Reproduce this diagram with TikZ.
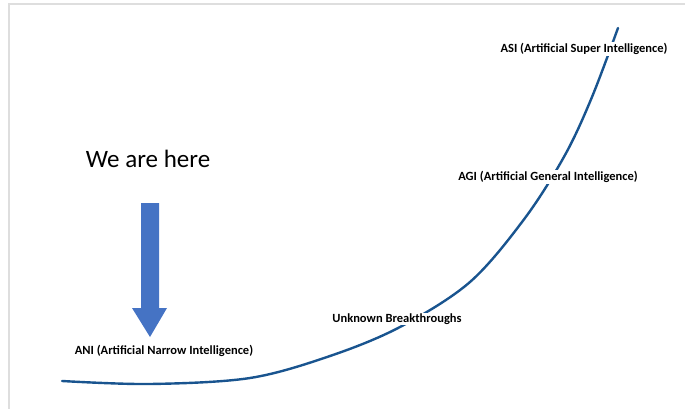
\documentclass[tikz,border=0pt]{standalone}
\usepackage{fontspec}
\setmainfont{Carlito}
\usepackage{tikz}
\usetikzlibrary{positioning}
\definecolor{cblue}{rgb}{0.10, 0.33, 0.56}
\definecolor{ablue}{rgb}{0.27, 0.45, 0.77}
\definecolor{fgray}{rgb}{0.87, 0.87, 0.87}

\begin{document}
\begin{tikzpicture}[x=1pt, y=-1pt,
    stage/.style={fill=white, inner sep=1pt, font=\fontsize{12.5}{15}\selectfont\bfseries}]
    \useasboundingbox (0, 0) rectangle (685, 409);

    \draw [fgray, line width=2pt] (9, 409) -- (9, 4) -- (685, 4);

    \draw [cblue, line width=2.4pt, line cap=round] plot [smooth, tension=0.55] coordinates {
        (62, 381) (150, 384) (250, 378) (330, 356) (400, 327) (470, 282)
        (525, 218) (565, 155) (592, 97) (618, 28)};

    \fill [ablue] (141, 203) -- (159, 203) -- (159, 308) -- (167, 308) -- (150, 337)
        -- (132, 308) -- (141, 308) -- cycle;

    \node [font=\fontsize{25}{30}\selectfont] (here) at (148, 159) {We are here};

    \node [stage] (ani) at (164, 351) {ANI (Artificial Narrow Intelligence)};
    \node [stage] (unknown) at (397, 319) {Unknown Breakthroughs};
    \node [stage] (agi) at (548, 177) {AGI (Artificial General Intelligence)};
    \node [stage] (asi) at (584, 49) {ASI (Artificial Super Intelligence)};
\end{tikzpicture}
\end{document}
